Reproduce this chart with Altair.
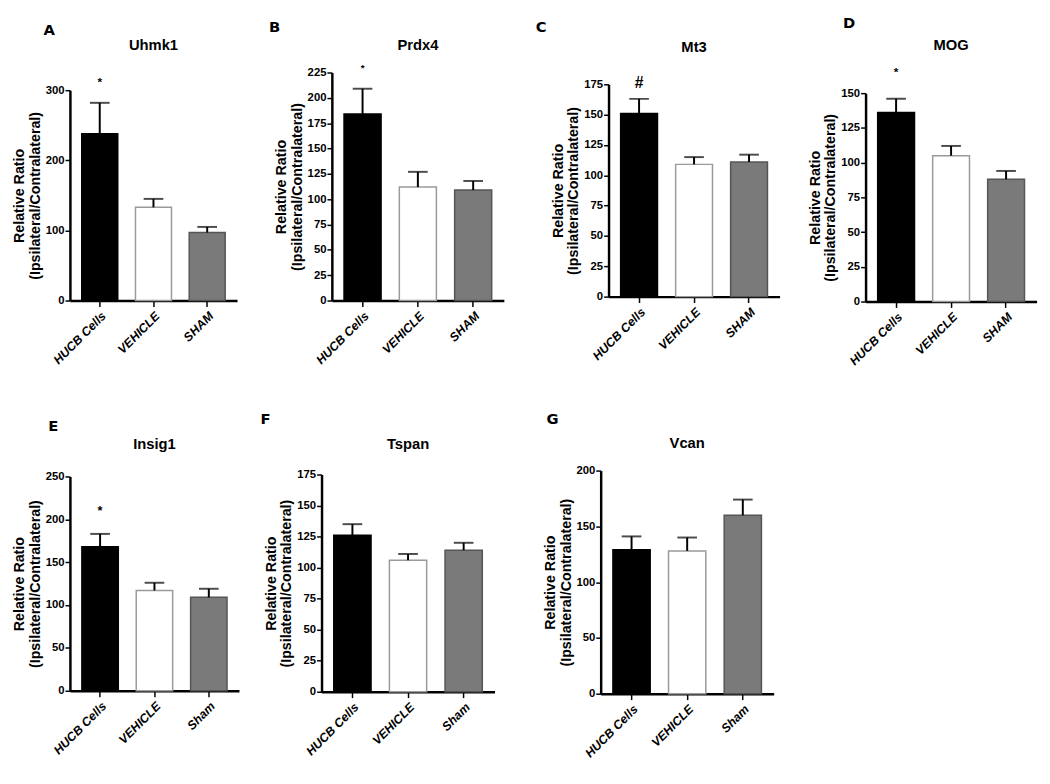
import altair as alt
import pandas as pd

# ---------------- data ----------------
LETTERS = ["A", "B", "C", "D", "E", "F", "G"]
GENES = ["Uhmk1", "Prdx4", "Mt3", "MOG", "Insig1", "Tspan", "Vcan"]
GROUPS_TOP = ["HUCB Cells", "VEHICLE", "SHAM"]
GROUPS_BOTTOM = ["HUCB Cells", "VEHICLE", "Sham"]

MEAN_HUCB = [238, 184, 151, 136, 168, 126, 129]
MEAN_VEHICLE = [133, 112, 109, 105, 117, 106, 128]
MEAN_SHAM = [97, 109, 111, 88, 109, 114, 160]
SEM_HUCB = [44, 25, 12, 10, 15, 9, 12]
SEM_VEHICLE = [12, 15, 6, 7, 9, 5, 12]
SEM_SHAM = [8, 9, 6, 6, 10, 6, 14]

Y_MAX = [300, 225, 175, 150, 250, 175, 200]
Y_STEP = [100, 25, 25, 25, 50, 25, 50]

SIG_MARK = ["*", "*", "#", "*", "*", "", ""]
SIG_Y = [312, 229, 176, 165, 210, 0, 0]

# ---------------- layout / style ----------------
PANEL_W = [170, 175, 174, 174, 172, 176, 176]
# view height (= distance from row origin to x axis) and top of the y range
PANEL_H = [243, 243, 239, 244, 239, 240, 242]
RANGE_TOP = [29, 11, 23, 32, 21, 19, 15]
LETTER_DX = [-27, -64, -74, -23, -22, -62, -55]
LETTER_DY = [-39, -42, -42, -46, -37, -44, -44]
GENE_DY = [-17, -17, -15, -17, -12, -12, -13]
SIG_SIZE = [12, 10, 16, 12, 13, 12, 12]

SANS = "Liberation Sans, Arial, sans-serif"
ALL_GROUPS = ["HUCB Cells", "VEHICLE", "SHAM", "Sham"]
FILLS = ["#000000", "#ffffff", "#7a7a7a", "#7a7a7a"]
STROKES = ["#000000", "#9a9a9a", "#555555", "#555555"]


def panel(i, groups):
    df = pd.DataFrame({
        "group": groups,
        "mean": [MEAN_HUCB[i], MEAN_VEHICLE[i], MEAN_SHAM[i]],
        "sem": [SEM_HUCB[i], SEM_VEHICLE[i], SEM_SHAM[i]],
    })
    df["upper"] = df["mean"] + df["sem"]
    ymax = Y_MAX[i]
    ticks = list(range(0, ymax + 1, Y_STEP[i]))

    x = alt.X(
        "group:N", sort=groups,
        scale=alt.Scale(domain=groups, paddingInner=0.33, paddingOuter=0.22),
        axis=alt.Axis(
            title=None, labelAngle=-45, labelFont=SANS, labelFontStyle="italic",
            labelFontWeight="bold", labelFontSize=12.5, labelColor="black",
            domainColor="black", domainWidth=2.5, tickColor="black",
            tickWidth=1.5, tickSize=6, labelPadding=3,
        ),
    )
    y_scale = alt.Scale(domain=[0, ymax], range=[PANEL_H[i], RANGE_TOP[i]], nice=False, zero=True)
    y_axis = alt.Axis(
        values=ticks, title=["Relative Ratio", "(Ipsilateral/Contralateral)"],
        titleFont=SANS, titleFontWeight="bold", titleFontSize=14.5,
        titleColor="black", titleLineHeight=16, titlePadding=3,
        labelFont=SANS, labelFontWeight="bold", labelFontSize=11.5,
        labelColor="black", labelPadding=1, domainColor="black",
        domainWidth=2.5, tickColor="black", tickWidth=1.5, tickSize=5,
        grid=False,
    )
    base = alt.Chart(df)
    bars = base.mark_bar(strokeWidth=1.5).encode(
        x=x, y=alt.Y("mean:Q", scale=y_scale, axis=y_axis),
        fill=alt.Fill("group:N", scale=alt.Scale(domain=ALL_GROUPS, range=FILLS), legend=None),
        stroke=alt.Stroke("group:N", scale=alt.Scale(domain=ALL_GROUPS, range=STROKES), legend=None),
    )
    err = base.mark_rule(color="black", strokeWidth=2).encode(
        x=x, y=alt.Y("mean:Q", scale=y_scale, axis=y_axis), y2="upper:Q"
    )
    cap = base.mark_tick(color="black", thickness=2, size=20).encode(
        x=x, y=alt.Y("upper:Q", scale=y_scale, axis=y_axis)
    )
    layers = [bars, err, cap]
    if SIG_MARK[i]:
        sig_df = pd.DataFrame({"group": [groups[0]], "y": [SIG_Y[i]], "t": [SIG_MARK[i]]})
        sig = alt.Chart(sig_df).mark_text(
            font=SANS, fontWeight="bold", fontSize=SIG_SIZE[i], color="black",
            baseline="middle", clip=False,
        ).encode(x=x, y=alt.Y("y:Q", scale=y_scale, axis=y_axis), text="t:N")
        layers.append(sig)

    letter = alt.Chart(pd.DataFrame({"t": [LETTERS[i]]})).mark_text(
        font="DejaVu Sans", fontWeight="bold", fontSize=15, color="black",
        align="left", baseline="top",
    ).encode(text="t:N", x=alt.value(LETTER_DX[i]), y=alt.value(LETTER_DY[i]))
    gene = alt.Chart(pd.DataFrame({"t": [GENES[i]]})).mark_text(
        font=SANS, fontWeight="bold", fontSize=15, color="black",
        align="center", baseline="middle",
    ).encode(text="t:N", x=alt.value(PANEL_W[i] / 2), y=alt.value(GENE_DY[i]))
    layers += [letter, gene]

    return alt.layer(*layers).properties(width=PANEL_W[i], height=PANEL_H[i])


top_row = alt.hconcat(
    alt.hconcat(*[panel(i, GROUPS_TOP) for i in range(3)], spacing=32.5),
    panel(3, GROUPS_TOP),
    spacing=27.5,
)
bottom_row = alt.hconcat(
    alt.hconcat(panel(4, GROUPS_BOTTOM), panel(5, GROUPS_BOTTOM), spacing=22),
    panel(6, GROUPS_BOTTOM),
    spacing=48,
)

chart = alt.vconcat(top_row, bottom_row, spacing=46).properties(
    padding={"left": 3, "top": 2, "right": 5, "bottom": 5},
    background="white",
).configure_view(strokeWidth=0, stroke=None)

chart.save("out.html", embed_options={"renderer": "svg", "actions": False})
